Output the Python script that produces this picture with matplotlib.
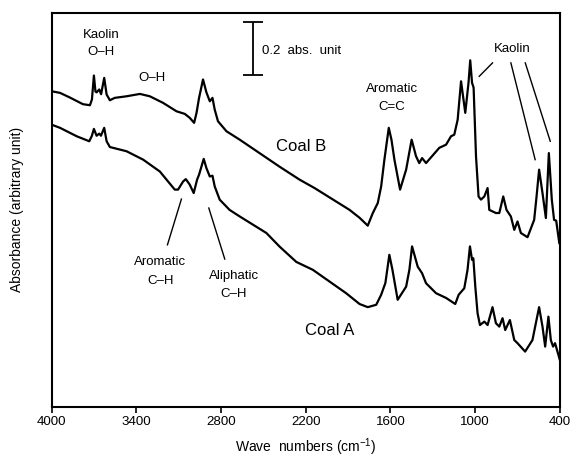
import matplotlib
matplotlib.use("Agg")
import matplotlib.pyplot as plt

plt.rcParams['font.family'] = ['Liberation Sans', 'DejaVu Sans']
plt.rcParams['mathtext.fontset'] = 'custom'
plt.rcParams['mathtext.rm'] = 'Liberation Sans'
plt.rcParams['mathtext.it'] = 'Liberation Sans:italic'

# Coal B spectrum (wave number cm-1, absorbance)
coal_b_wn = [4000, 3941, 3870, 3779, 3729, 3715, 3701, 3690, 3682, 3663, 3650, 3628,
             3611, 3588, 3553, 3470, 3375, 3305, 3211, 3116, 3057, 3022, 2991, 2974,
             2956, 2928, 2904, 2880, 2861, 2845, 2822, 2762, 2668, 2385, 2244, 2138,
             1890, 1819, 1761, 1725, 1690, 1666, 1643, 1612, 1593, 1572, 1532, 1489,
             1450, 1419, 1396, 1376, 1348, 1254, 1206, 1171, 1148, 1124, 1100, 1070,
             1047, 1035, 1022, 1011, 994, 976, 959, 935, 912, 900, 853, 829,
             801, 778, 747, 723, 700, 676, 629, 582, 565, 547, 523, 499,
             478, 457, 441, 426, 404]
coal_b_abs = [1.201, 1.195, 1.177, 1.152, 1.148, 1.170, 1.261, 1.200, 1.197, 1.208, 1.190, 1.252,
              1.189, 1.167, 1.176, 1.182, 1.191, 1.182, 1.157, 1.125, 1.115, 1.100, 1.081, 1.119,
              1.176, 1.246, 1.197, 1.163, 1.176, 1.131, 1.087, 1.049, 1.017, 0.914, 0.865, 0.833,
              0.750, 0.720, 0.690, 0.738, 0.776, 0.839, 0.941, 1.062, 1.017, 0.941, 0.827, 0.903,
              1.017, 0.954, 0.928, 0.947, 0.928, 0.986, 0.998, 1.030, 1.036, 1.093, 1.239, 1.119,
              1.234, 1.319, 1.233, 1.215, 0.954, 0.801, 0.789, 0.801, 0.833, 0.750, 0.738, 0.738,
              0.801, 0.750, 0.725, 0.674, 0.706, 0.662, 0.646, 0.712, 0.801, 0.903, 0.814, 0.719,
              0.966, 0.789, 0.712, 0.709, 0.624]

# Coal A spectrum
coal_a_wn = [4000, 3941, 3823, 3734, 3715, 3701, 3682, 3663, 3651, 3628, 3611, 3588,
             3470, 3352, 3234, 3128, 3105, 3069, 3050, 3022, 2994, 2970, 2956, 2923,
             2904, 2880, 2861, 2845, 2810, 2740, 2668, 2479, 2385, 2267, 2150, 1914,
             1819, 1761, 1701, 1666, 1636, 1608, 1586, 1549, 1489, 1466, 1447, 1407,
             1376, 1348, 1277, 1206, 1141, 1117, 1077, 1054, 1037, 1022, 1013, 999,
             983, 966, 935, 912, 877, 853, 829, 806, 787, 754, 723, 700,
             646, 594, 570, 547, 523, 504, 481, 464, 448, 434, 410, 400]
coal_a_abs = [1.074, 1.062, 1.030, 1.011, 1.032, 1.058, 1.032, 1.040, 1.032, 1.062, 1.011, 0.989,
              0.973, 0.941, 0.896, 0.827, 0.827, 0.858, 0.867, 0.846, 0.814, 0.865, 0.884, 0.944,
              0.909, 0.877, 0.880, 0.839, 0.789, 0.750, 0.725, 0.662, 0.610, 0.552, 0.522, 0.433,
              0.392, 0.380, 0.389, 0.427, 0.472, 0.579, 0.522, 0.408, 0.458, 0.522, 0.611, 0.534,
              0.509, 0.471, 0.433, 0.415, 0.392, 0.427, 0.452, 0.522, 0.611, 0.560, 0.566, 0.458,
              0.357, 0.312, 0.325, 0.312, 0.380, 0.319, 0.306, 0.338, 0.293, 0.331, 0.255, 0.243,
              0.211, 0.255, 0.319, 0.380, 0.306, 0.230, 0.344, 0.255, 0.230, 0.243, 0.198, 0.179]

xticks = [4000, 3400, 2800, 2200, 1600, 1000, 400]
scale_bar = 0.2  # abs. unit

fig = plt.figure(figsize=(5.70, 4.61), dpi=100)
ax = fig.add_axes([0.0907, 0.117, 0.8915, 0.8555])

ax.plot(coal_b_wn, coal_b_abs, color='black', lw=1.6, solid_joinstyle='round')
ax.plot(coal_a_wn, coal_a_abs, color='black', lw=1.6, solid_joinstyle='round')

ax.set_xlim(4000, 400)
ax.set_ylim(0, 1.5)
ax.set_xticks(xticks)
ax.set_yticks([])
ax.tick_params(axis='x', direction='out', length=4, width=1.2, labelsize=9.6, pad=2.5)
for s in ax.spines.values():
    s.set_linewidth(1.5)

ax.set_xlabel('Wave  numbers (cm$^{-1}$)', fontsize=10, labelpad=6)
ax.set_ylabel('Absorbance (arbitrary unit)', fontsize=10, labelpad=20)

# scale bar
ax.errorbar([2576], [1.3645], yerr=scale_bar / 2, color='black', lw=1.3,
            capsize=7, capthick=1.3)
ax.text(2513, 1.354, '0.2  abs.  unit', fontsize=9.5, ha='left', va='center')

fs = 9.5
ax.text(3651, 1.417, 'Kaolin', fontsize=fs, ha='center', va='center')
ax.text(3651, 1.349, 'O\u2013H', fontsize=fs, ha='center', va='center')
ax.text(3291, 1.253, 'O\u2013H', fontsize=fs, ha='center', va='center')
ax.text(1588, 1.208, 'Aromatic', fontsize=fs, ha='center', va='center')
ax.text(1588, 1.140, 'C=C', fontsize=fs, ha='center', va='center')
ax.text(740, 1.360, 'Kaolin', fontsize=fs, ha='center', va='center')
ax.plot([877, 971], [1.309, 1.258], color='black', lw=1)
ax.plot([747, 575], [1.309, 0.941], color='black', lw=1)
ax.plot([645, 468], [1.309, 1.011], color='black', lw=1)

ax.text(3230, 0.551, 'Aromatic', fontsize=fs, ha='center', va='center')
ax.text(3230, 0.480, 'C\u2013H', fontsize=fs, ha='center', va='center')
ax.plot([3081, 3180], [0.791, 0.617], color='black', lw=1)
ax.text(2708, 0.499, 'Aliphatic', fontsize=fs, ha='center', va='center')
ax.text(2708, 0.429, 'C\u2013H', fontsize=fs, ha='center', va='center')
ax.plot([2887, 2774], [0.757, 0.563], color='black', lw=1)

ax.text(2230, 0.990, 'Coal B', fontsize=12, ha='center', va='center')
ax.text(2032, 0.293, 'Coal A', fontsize=12, ha='center', va='center')

fig.savefig('out.png', dpi=100)
